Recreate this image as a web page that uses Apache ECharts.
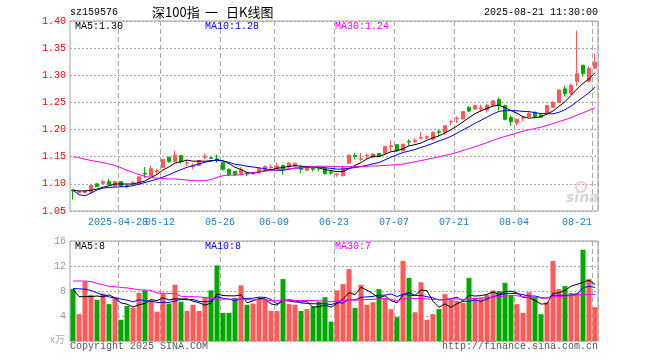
<!DOCTYPE html>
<html><head><meta charset="utf-8">
<script src="https://cdn.jsdelivr.net/npm/echarts@6/dist/echarts.min.js"></script>
<style>html,body{margin:0;padding:0;background:#fff}#c{width:660px;height:360px}</style>
</head><body><div id="c"></div>
<script>
const dates = ['2025-04-16','2025-04-17','2025-04-18','2025-04-21','2025-04-22','2025-04-23','2025-04-24','2025-04-25','2025-04-28','2025-04-29','2025-04-30','2025-05-06','2025-05-07','2025-05-08','2025-05-09','2025-05-12','2025-05-13','2025-05-14','2025-05-15','2025-05-16','2025-05-19','2025-05-20','2025-05-21','2025-05-22','2025-05-23','2025-05-26','2025-05-27','2025-05-28','2025-05-29','2025-05-30','2025-06-03','2025-06-04','2025-06-05','2025-06-06','2025-06-09','2025-06-10','2025-06-11','2025-06-12','2025-06-13','2025-06-16','2025-06-17','2025-06-18','2025-06-19','2025-06-20','2025-06-23','2025-06-24','2025-06-25','2025-06-26','2025-06-27','2025-06-30','2025-07-01','2025-07-02','2025-07-03','2025-07-04','2025-07-07','2025-07-08','2025-07-09','2025-07-10','2025-07-11','2025-07-14','2025-07-15','2025-07-16','2025-07-17','2025-07-18','2025-07-21','2025-07-22','2025-07-23','2025-07-24','2025-07-25','2025-07-28','2025-07-29','2025-07-30','2025-07-31','2025-08-01','2025-08-04','2025-08-05','2025-08-06','2025-08-07','2025-08-08','2025-08-11','2025-08-12','2025-08-13','2025-08-14','2025-08-15','2025-08-18','2025-08-19','2025-08-20','2025-08-21'];

const opens  = [1.089,1.084,1.084,1.085,1.100,1.101,1.104,1.096,1.104,1.097, 1.100,1.099,1.119,1.114,1.122,1.130,1.149,1.141,1.152,1.138, 1.132,1.134,1.149,1.148,1.146,1.139,1.127,1.123,1.119,1.120, 1.119,1.120,1.127,1.130,1.128,1.134,1.131,1.133,1.131,1.125, 1.129,1.129,1.128,1.122,1.117,1.115,1.138,1.152,1.145,1.151, 1.149,1.156,1.156,1.168,1.172,1.161,1.178,1.178,1.184,1.185, 1.182,1.196,1.195,1.214,1.220,1.220,1.241,1.238,1.238,1.236, 1.245,1.255,1.244,1.222,1.212,1.221,1.224,1.232,1.227,1.229, 1.241,1.250,1.275,1.266,1.289,1.318,1.289,1.313];
const closes = [1.087,1.086,1.087,1.097,1.095,1.104,1.099,1.104,1.096,1.096, 1.103,1.113,1.118,1.128,1.124,1.145,1.141,1.153,1.141,1.139, 1.134,1.143,1.151,1.147,1.145,1.127,1.117,1.117,1.126,1.118, 1.120,1.128,1.132,1.131,1.133,1.127,1.138,1.138,1.127,1.129, 1.127,1.128,1.119,1.120,1.118,1.129,1.153,1.150,1.146,1.152, 1.155,1.150,1.169,1.170,1.161,1.173,1.177,1.180,1.185,1.187, 1.195,1.195,1.207,1.215,1.221,1.233,1.234,1.244,1.240,1.245, 1.253,1.244,1.219,1.215,1.219,1.222,1.230,1.224,1.223,1.244, 1.250,1.273,1.266,1.281,1.303,1.303,1.313,1.324];
const lows   = [1.071,1.082,1.082,1.083,1.094,1.099,1.098,1.095,1.095,1.092, 1.099,1.098,1.111,1.113,1.117,1.129,1.139,1.140,1.137,1.133, 1.127,1.133,1.145,1.146,1.139,1.124,1.114,1.114,1.116,1.114, 1.117,1.119,1.126,1.125,1.127,1.117,1.130,1.132,1.120,1.124, 1.123,1.123,1.117,1.117,1.113,1.114,1.137,1.145,1.142,1.145, 1.148,1.149,1.155,1.160,1.159,1.160,1.171,1.175,1.182,1.182, 1.180,1.188,1.190,1.208,1.212,1.218,1.232,1.236,1.233,1.231, 1.243,1.235,1.217,1.207,1.207,1.215,1.223,1.221,1.221,1.228, 1.240,1.249,1.261,1.264,1.280,1.298,1.287,1.311];
const highs  = [1.090,1.087,1.088,1.098,1.101,1.107,1.109,1.106,1.105,1.098, 1.104,1.114,1.131,1.134,1.127,1.146,1.150,1.161,1.153,1.144, 1.138,1.144,1.156,1.149,1.154,1.140,1.128,1.124,1.131,1.121, 1.122,1.129,1.134,1.136,1.139,1.135,1.140,1.139,1.134,1.130, 1.130,1.130,1.129,1.123,1.119,1.134,1.154,1.157,1.157,1.156, 1.156,1.157,1.170,1.180,1.173,1.174,1.182,1.184,1.196,1.189, 1.196,1.200,1.208,1.218,1.224,1.234,1.243,1.246,1.246,1.247, 1.254,1.259,1.246,1.226,1.220,1.225,1.232,1.233,1.228,1.245, 1.252,1.274,1.281,1.285,1.382,1.320,1.317,1.340];

const ma5  = [1.088,1.087,1.087,1.088,1.0904,1.0938,1.0964,1.0998,1.0996,1.0998, 1.0996,1.1024,1.1052,1.1116,1.1172,1.1256,1.1312,1.1382,1.1408,1.1438, 1.1416,1.142,1.1416,1.1428,1.144,1.1426,1.1374,1.1306,1.1264,1.121, 1.1196,1.1218,1.1248,1.1258,1.1288,1.1302,1.1322,1.1334,1.1326,1.1318, 1.1318,1.1298,1.126,1.1246,1.1224,1.1228,1.1278,1.134,1.1392,1.146, 1.1512,1.1506,1.1544,1.1592,1.161,1.1646,1.170,1.1722,1.1752,1.1804, 1.1848,1.1884,1.1938,1.1998,1.2066,1.2142,1.222,1.2294,1.2344,1.2392, 1.2432,1.2452,1.2402,1.2352,1.230,1.2238,1.221,1.222,1.2236,1.2286, 1.2342,1.2428,1.2512,1.2628,1.2746,1.2852,1.2932,1.3048];
const ma10 = [1.088,1.080,1.078,1.083,1.0887,1.092,1.0935,1.094,1.0945,1.0951, 1.0967,1.0994,1.1025,1.1056,1.1085,1.1126,1.1168,1.1217,1.1262,1.1305, 1.1336,1.1366,1.1399,1.1418,1.1439,1.1421,1.1397,1.1361,1.1346,1.1325, 1.1311,1.1296,1.1277,1.1261,1.1249,1.1249,1.127,1.1291,1.1292,1.1303, 1.131,1.131,1.1297,1.1286,1.1271,1.1273,1.1288,1.130,1.1319,1.1342, 1.137,1.1392,1.1442,1.1492,1.1535,1.1579,1.1603,1.1633,1.1672,1.1707, 1.1747,1.1792,1.183,1.1875,1.1935,1.1995,1.2052,1.2116,1.2171,1.2229, 1.2287,1.2336,1.2348,1.2348,1.2346,1.2335,1.2331,1.2311,1.2294,1.2293, 1.229,1.2319,1.2366,1.2432,1.2516,1.2597,1.268,1.278];
const ma30 = [1.150,1.148,1.1455,1.143,1.141,1.139,1.1365,1.134,1.1295,1.125, 1.121,1.117,1.114,1.1115,1.1105,1.110,1.109,1.109,1.108,1.107, 1.106,1.1056,1.106,1.108,1.112,1.115,1.116,1.116,1.117,1.1194, 1.1205,1.1219,1.1234,1.1245,1.1258,1.1265,1.1278,1.129,1.130,1.1311, 1.1319,1.1324,1.1324,1.1322,1.132,1.1314,1.1318,1.1317,1.1319,1.1323, 1.133,1.1333,1.1339,1.1346,1.1352,1.1367,1.1387,1.1408,1.1428,1.1451, 1.1476,1.1498,1.1523,1.1551,1.158,1.1616,1.1648,1.1683,1.1721,1.1759, 1.1801,1.184,1.1873,1.1905,1.1939,1.197,1.1995,1.202,1.2046,1.2076, 1.2108,1.2149,1.2181,1.2218,1.2266,1.2309,1.2354,1.2402];

const volumes = [8.3,4.3,9.5,7.4,6.6,7.6,5.9,7.0,3.4,5.6, 5.3,7.7,8.1,6.5,4.7,7.6,6.0,9.0,6.3,4.8, 5.8,4.8,7.0,8.1,12.1,4.5,4.5,6.9,8.9,5.8, 6.0,6.6,6.6,4.8,4.8,9.9,5.9,5.8,4.8,5.1, 5.5,6.3,7.0,3.1,8.1,9.1,11.5,5.3,9.0,5.8, 6.2,8.3,6.9,5.1,3.8,12.8,10.1,4.6,9.4,3.4, 4.3,5.1,7.5,6.6,6.4,6.1,10.1,6.9,6.9,7.4, 8.1,8.0,9.3,7.2,5.9,4.5,7.8,6.9,4.3,6.2, 12.8,8.3,8.8,7.7,7.7,14.6,9.9,5.4];
const vma5  = [8.3,7.1,7.1,7.1,7.20,7.07,7.39,6.89,6.09,5.90, 5.44,5.80,6.01,6.63,6.45,6.91,6.57,6.76,6.73,6.75, 6.38,6.13,5.73,6.08,7.53,7.28,7.23,7.22,7.38,6.12, 6.41,6.81,6.74,5.93,5.74,6.53,6.40,6.24,6.24,6.30, 5.42,5.49,5.75,5.41,5.99,6.72,7.76,7.41,8.59,8.13, 7.55,6.91,7.24,6.47,6.09,7.40,7.75,7.30,8.16,8.06, 6.37,5.38,5.95,5.38,5.98,6.34,7.33,7.20,7.26,7.46, 7.85,7.43,7.91,7.98,7.69,6.99,6.95,6.48,5.91,5.97, 7.63,7.72,8.10,8.77,9.06,9.41,9.73,9.06];
const vma10 = [8.4,8.35,8.3,8.1,7.7,7.35,7.05,6.9,6.7,6.55, 6.26,6.60,6.45,6.36,6.18,6.18,6.19,6.39,6.68,6.60, 6.64,6.35,6.25,6.41,7.14,6.83,6.68,6.47,6.73,6.83, 6.85,7.02,6.98,6.65,5.93,6.47,6.61,6.49,6.09,6.02, 5.97,5.95,5.99,5.82,6.15,6.07,6.63,6.58,7.00,7.06, 7.14,7.34,7.33,7.53,7.11,7.48,7.33,7.27,7.32,7.08, 6.89,6.57,6.62,6.77,7.02,6.35,6.35,6.58,6.32,6.72, 7.09,7.38,7.56,7.62,7.57,7.42,7.19,7.20,6.94,6.83, 7.31,7.34,7.29,7.34,7.51,8.52,8.73,8.58];
const vma30 = [9.6,9.6,9.6,9.5,9.2,9.0,8.75,8.7,8.55,8.5, 8.35,8.2,8.15,8.1,7.7,7.65,7.6,7.6,7.15,7.1, 7.1,7.05,6.95,6.8,6.75,6.7,6.7,6.7,6.7,6.66, 6.58,6.66,6.56,6.47,6.42,6.49,6.49,6.45,6.50,6.48, 6.49,6.44,6.41,6.29,6.41,6.46,6.64,6.51,6.60,6.64, 6.65,6.77,6.77,6.67,6.40,6.67,6.86,6.78,6.80,6.72, 6.66,6.62,6.65,6.71,6.76,6.63,6.77,6.81,6.88,6.95, 7.04,7.09,7.17,7.31,7.24,7.08,6.96,7.01,6.86,6.88, 7.09,7.09,7.16,7.24,7.37,7.43,7.42,7.45];

const tickDates  = ['2025-04-28','2025-05-12','2025-05-26','2025-06-09','2025-06-23','2025-07-07','2025-07-21','2025-08-04','2025-08-21'];
const tickLabels = ['2025-04-28','05-12','05-26','06-09','06-23','07-07','07-21','08-04','08-21'];

const UP = '#ff5a5a', DOWN = '#00a800';
const MONO = '"Liberation Mono","DejaVu Sans Mono",monospace';
const CJK = '"Noto Sans CJK SC"';
const GRIDC = '#a8a8a8';
const LABELC = '#1a7fcb';
const isTick = (i) => tickDates.indexOf(dates[i]) >= 0;
const firstTick = tickDates[0];
const lastTick = tickDates[tickDates.length - 1];

const chart = echarts.init(document.getElementById('c'), null, {renderer: 'canvas'});

function txt(text, x, y, color, opts) {
  opts = opts || {};
  return {type: 'text', x: x, y: y, silent: true, z: 100,
    style: {text: text, fill: color, font: opts.font || ('10px ' + MONO),
      textAlign: opts.align || 'left', textVerticalAlign: 'middle'}};
}
const richLbl = {
  n: {padding: [0, 6, 0, 0], color: LABELC, fontFamily: MONO, fontSize: 10},
  r: {padding: [0, 36, 0, 0], color: LABELC, fontFamily: MONO, fontSize: 10}
};
const labelFmt = (v) => {
  const t = tickLabels[tickDates.indexOf(v)];
  return v === lastTick ? '{r|' + t + '}' : '{n|' + t + '}';
};

const option = {
  animation: false,
  backgroundColor: '#fff',
  grid: [
    {left: 70, top: 21, width: 528, height: 190, show: true, borderColor: '#a0a0a0', borderWidth: 1, backgroundColor: 'transparent', containLabel: false, outerBoundsMode: 'none'},
    {left: 70, top: 241, width: 528, height: 100, show: true, borderColor: '#a0a0a0', borderWidth: 1, backgroundColor: 'transparent', containLabel: false, outerBoundsMode: 'none'}
  ],
  xAxis: [
    {type: 'category', gridIndex: 0, data: dates, boundaryGap: true, position: 'bottom',
     axisLine: {show: false}, axisTick: {show: false},
     axisLabel: {show: true, interval: (i) => isTick(i) && dates[i] !== firstTick, hideOverlap: false, margin: 6,
       color: LABELC, fontFamily: MONO, fontSize: 10, formatter: labelFmt, rich: richLbl},
     splitLine: {show: true, interval: (i) => isTick(i), lineStyle: {color: GRIDC, width: 1, type: [5, 3]}}},
    {type: 'category', gridIndex: 1, data: dates, boundaryGap: true,
     axisLine: {show: false}, axisTick: {show: false}, axisLabel: {show: false},
     splitLine: {show: true, interval: (i) => isTick(i), lineStyle: {color: GRIDC, width: 1, type: [5, 3]}}},
    {type: 'category', gridIndex: 0, data: dates, boundaryGap: true, position: 'bottom', offset: 0,
     axisLine: {show: false}, axisTick: {show: false}, splitLine: {show: false},
     axisLabel: {show: true, interval: (i) => dates[i] === firstTick, hideOverlap: false, margin: 6,
       color: LABELC, fontFamily: MONO, fontSize: 10, formatter: labelFmt, rich: richLbl}}
  ],
  yAxis: [
    {type: 'value', gridIndex: 0, min: 1.05, max: 1.40, interval: 0.05,
     axisLine: {show: false}, axisTick: {show: false},
     axisLabel: {color: '#ff0000', fontFamily: MONO, fontSize: 10, margin: 4, hideOverlap: false, formatter: (v) => v.toFixed(2)},
     splitLine: {show: true, lineStyle: {color: GRIDC, width: 1, type: [2, 2]}}},
    {type: 'value', gridIndex: 1, min: 0, max: 16, interval: 4,
     axisLine: {show: false}, axisTick: {show: false},
     axisLabel: {color: '#999999', fontFamily: MONO, fontSize: 10, margin: 4, formatter: (v) => v === 0 ? '' : String(v)},
     splitLine: {show: true, lineStyle: {color: GRIDC, width: 1, type: [2, 2]}}}
  ],
  series: [
    {type: 'candlestick', xAxisIndex: 0, yAxisIndex: 0, barWidth: 4,
     data: dates.map((d, i) => [opens[i], closes[i], lows[i], highs[i]]),
     itemStyle: {color: UP, color0: DOWN, borderColor: UP, borderColor0: DOWN, borderWidth: 1}},
    {type: 'line', xAxisIndex: 0, yAxisIndex: 0, data: ma5, symbol: 'none', silent: true, lineStyle: {color: '#000000', width: 1}, z: 5},
    {type: 'line', xAxisIndex: 0, yAxisIndex: 0, data: ma10, symbol: 'none', silent: true, lineStyle: {color: '#0000ff', width: 1}, z: 5},
    {type: 'line', xAxisIndex: 0, yAxisIndex: 0, data: ma30, symbol: 'none', silent: true, lineStyle: {color: '#ff00ff', width: 1}, z: 5},
    {type: 'bar', xAxisIndex: 1, yAxisIndex: 1, barWidth: 5,
     data: volumes.map((v, i) => ({value: v, itemStyle: {color: closes[i] >= opens[i] ? UP : DOWN}}))},
    {type: 'line', xAxisIndex: 1, yAxisIndex: 1, data: vma5, symbol: 'none', silent: true, lineStyle: {color: '#000000', width: 1}, z: 5},
    {type: 'line', xAxisIndex: 1, yAxisIndex: 1, data: vma10, symbol: 'none', silent: true, lineStyle: {color: '#0000ff', width: 1}, z: 5},
    {type: 'line', xAxisIndex: 1, yAxisIndex: 1, data: vma30, symbol: 'none', silent: true, lineStyle: {color: '#ff00ff', width: 1}, z: 5}
  ],
  graphic: [
    txt('sz159576', 70, 12, '#000'),
    txt('深100指', 152, 12, '#000', {font: '13px ' + CJK}),
    txt('一', 205, 12, '#000', {font: '13px ' + CJK}),
    txt('日K线图', 226, 12, '#000', {font: '13px ' + CJK}),
    txt('2025-08-21 11:30:00', 598, 12, '#000', {align: 'right'}),
    txt('MA5:1.30', 75, 26.5, '#000'),
    txt('MA10:1.28', 205, 26.5, '#0000ff'),
    txt('MA30:1.24', 335, 26.5, '#ff00ff'),
    txt('MA5:8', 75, 246.5, '#000'),
    txt('MA10:8', 205, 246.5, '#0000ff'),
    txt('MA30:7', 335, 246.5, '#ff00ff'),
    txt('x万', 50, 339, '#aaaaaa', {font: '10px ' + CJK}),
    txt('Copyright 2025 SINA.COM', 70, 346, '#555555'),
    txt('http://finance.sina.com.cn', 598, 346, '#555555', {align: 'right'}),
    {type: 'circle', shape: {cx: 581, cy: 187, r: 5}, silent: true, z: 1,
     style: {fill: 'none', stroke: '#f3caca', lineWidth: 2}},
    txt('sina', 566, 198, '#d6d6d6', {font: 'italic bold 14px "DejaVu Sans"'})
  ]
};
chart.setOption(option);
</script>
</body></html>
